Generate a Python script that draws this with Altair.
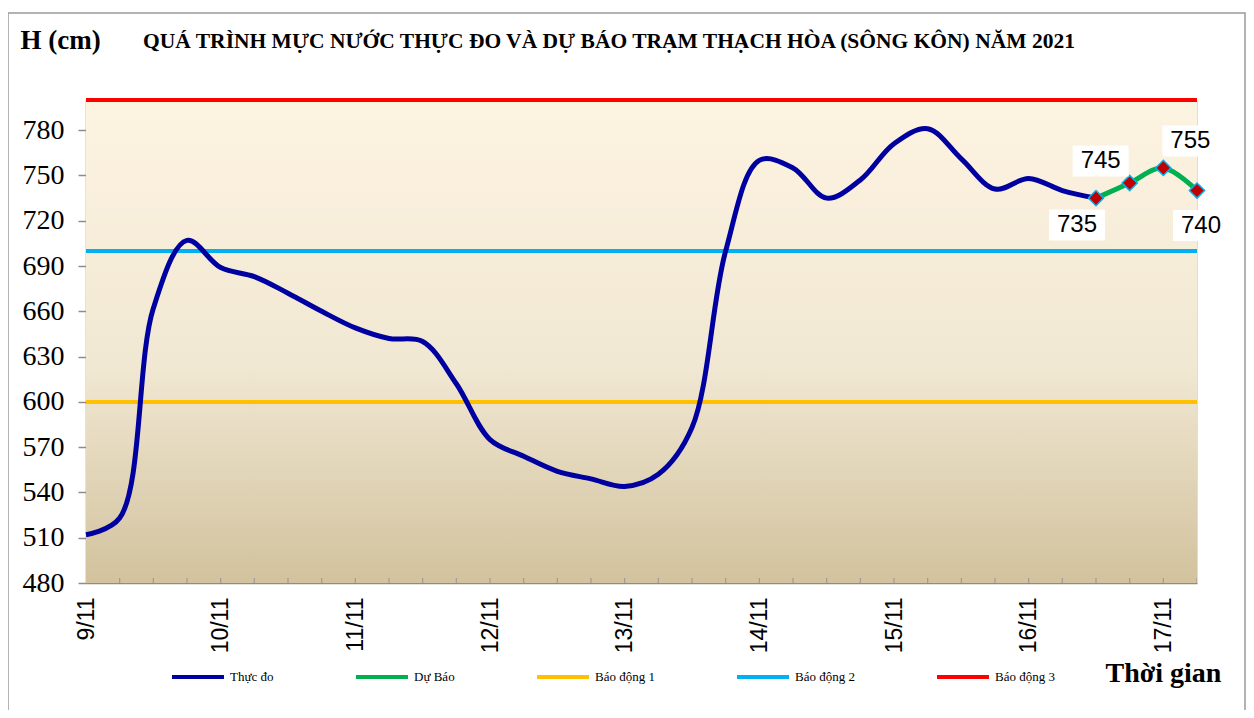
import altair as alt
import pandas as pd

# ---------------- data ----------------
day_labels = ["9/11", "10/11", "11/11", "12/11", "13/11", "14/11", "15/11", "16/11", "17/11"]
# observed water level, every 6 hours from 9/11 00h (index 0) to 16/11 12h (index 30)
obs_values = [512, 523, 662, 707, 689, 683, 672, 660, 649, 642, 640, 612, 575, 564,
              554, 549, 544, 552, 583, 700, 760, 755, 735, 747, 771, 781, 761, 741,
              748, 740, 735]
fc_index = [30, 31, 32, 33]
fc_values = [735, 745, 755, 740]
alarm_names = ["Báo động 1", "Báo động 2", "Báo động 3"]
alarm_values = [600, 700, 800]
series_names = ["Thực đo", "Dự Báo", "Báo động 1", "Báo động 2", "Báo động 3"]
series_colors = ["#0000A0", "#00B050", "#FFC000", "#00B0F0", "#FF0000"]
y_ticks = list(range(480, 781, 30))
n_steps = 33
main_title = "QUÁ TRÌNH MỰC NƯỚC THỰC ĐO VÀ DỰ BÁO TRẠM THẠCH HÒA (SÔNG KÔN) NĂM  2021"

# ---------------- tables ----------------
obs_df = pd.DataFrame({"i": list(range(len(obs_values))), "h": obs_values, "s": "Thực đo"})
fc_df = pd.DataFrame({"i": fc_index, "h": fc_values, "s": "Dự Báo"})
alarm_rows = []
for name, v in zip(alarm_names, alarm_values):
    alarm_rows.append({"i": 0, "h": v, "s": name})
    alarm_rows.append({"i": n_steps, "h": v, "s": name})
alarm_df = pd.DataFrame(alarm_rows)
tick_df = pd.DataFrame({"i": list(range(1, n_steps + 1))})

W, H = 1111, 483
label_expr = "[" + ",".join("'%s'" % d for d in day_labels) + "][round(datum.value/4)]"
SERIF = "Liberation Serif"
SANS = "Liberation Sans"

x_scale = alt.Scale(domain=[0, n_steps], nice=False, zero=False)
y_scale = alt.Scale(domain=[480, 800], nice=False, zero=False)
x_axis = alt.Axis(values=list(range(0, n_steps + 1, 4)), labelExpr=label_expr, title="Thời gian",
                  labelAngle=-90, labelFont=SANS, labelFontSize=23, labelPadding=14, tickSize=0)
y_axis = alt.Axis(values=y_ticks, title="H (cm)", labelFont=SERIF, labelFontSize=28,
                  labelPadding=14, tickSize=8)

x_enc = alt.X("i:Q", scale=x_scale, axis=x_axis)
y_enc = alt.Y("h:Q", scale=y_scale, axis=y_axis)
color_enc = alt.Color("s:N", scale=alt.Scale(domain=series_names, range=series_colors),
                      legend=alt.Legend(title=None, orient="none", direction="horizontal",
                                        legendX=84, legendY=549, symbolType="stroke",
                                        symbolSize=2700, symbolStrokeWidth=4,
                                        labelFont=SERIF, labelFontSize=13,
                                        labelColor="#000", labelOffset=4, columnPadding=74))

bg = alt.Chart(pd.DataFrame({"a": [0]})).mark_rect(
    color=alt.Gradient(gradient="linear", x1=0, x2=0, y1=0, y2=1,
                       stops=[alt.GradientStop(color="#FDF3E1", offset=0),
                              alt.GradientStop(color="#F1E8D3", offset=0.55),
                              alt.GradientStop(color="#D2C29D", offset=1)])
).encode(x=alt.X(datum=0, scale=x_scale, axis=x_axis), x2=alt.datum(n_steps),
         y=alt.Y(datum=480, scale=y_scale, axis=y_axis), y2=alt.datum(800))

frame = alt.Chart(pd.DataFrame({"a": [0]})).mark_rect(
    fill="transparent", stroke="#9a9a9a", strokeWidth=1.5, clip=False
).encode(x=alt.value(-78), x2=alt.value(1159), y=alt.value(-87), y2=alt.value(660))

title_txt = alt.Chart(pd.DataFrame({"a": [0]})).mark_text(
    text=main_title, align="left", baseline="middle", font=SERIF, fontSize=21.5,
    fontWeight="bold", color="#000", clip=False
).encode(x=alt.value(57), y=alt.value(-58))

ticks = alt.Chart(tick_df).mark_tick(orient="vertical", size=10, thickness=1.2,
                                     color="#8c8c8c", clip=True).encode(
    x=alt.X("i:Q", scale=x_scale, axis=x_axis), y=alt.datum(480))

alarms = alt.Chart(alarm_df).mark_line(strokeWidth=4, clip=False).encode(
    x=x_enc, y=y_enc, color=color_enc, detail="s:N")
obs = alt.Chart(obs_df).mark_line(strokeWidth=5, interpolate="catmull-rom").encode(
    x=x_enc, y=y_enc, color=color_enc)
fc = alt.Chart(fc_df).mark_line(strokeWidth=5, interpolate="catmull-rom").encode(
    x=x_enc, y=y_enc, color=color_enc)
pts = alt.Chart(fc_df).mark_point(shape="diamond", filled=True, fill="#C00000", stroke="#00B0F0",
                                  strokeWidth=1.5, size=230, opacity=1).encode(
    x=x_enc, y=y_enc)

label_dx = [-19, -29, 27, 4]
label_dy = [27, -22, -27, 35]
label_layers = []
for k in range(len(fc_values)):
    d = fc_df.iloc[[k]]
    box = alt.Chart(d).mark_rect(width=56, height=31, fill="white", xOffset=label_dx[k],
                                 yOffset=label_dy[k], clip=False).encode(x=x_enc, y=y_enc)
    txt = alt.Chart(d).mark_text(font=SANS, fontSize=24, color="#000",
                                 dx=label_dx[k], dy=label_dy[k], clip=False).encode(
        x=x_enc, y=y_enc, text="h:Q")
    label_layers += [box, txt]

chart = alt.layer(frame, bg, ticks, alarms, obs, fc, pts, *label_layers, title_txt).properties(
    width=W, height=H,
    autosize=alt.AutoSizeParams(type="none"),
    padding={"left": 78, "top": 92, "right": 49, "bottom": 127},
).configure_view(stroke="#333", strokeWidth=1).configure(
    background="white"
).configure_axis(
    grid=False, domainColor="#8c8c8c", domainWidth=1.5, labelColor="#000", titleColor="#000"
).configure_axisX(
    titleFont=SERIF, titleFontSize=28, titleFontWeight="bold", titleAngle=0,
    titleAlign="left", titleBaseline="middle", titleX=1019, titleY=90
).configure_axisY(
    tickColor="#8c8c8c", tickWidth=1.5, titleFont=SERIF, titleFontSize=27,
    titleFontWeight="bold", titleAngle=0,
    titleAlign="left", titleBaseline="middle", titleX=-66, titleY=-60
)

chart.save("out.html", embed_options={"renderer": "svg", "actions": False})
